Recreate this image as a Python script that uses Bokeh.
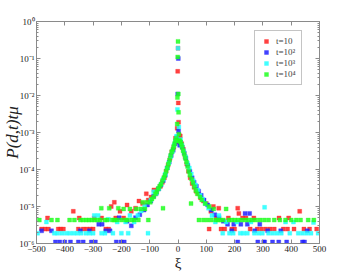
import math
from bokeh.plotting import figure
from bokeh.models import (Legend, LegendItem, LinearAxis, LogAxis, FixedTicker,
                          CustomJSTickFormatter, Range1d)
from bokeh.embed import file_html
from bokeh.resources import INLINE

# ---------------- data ----------------
series_labels = ["t=10", "t=10\u00b2", "t=10\u00b3", "t=10\u2074"]
series_colors = ["#ff2020", "#2020ff", "#20ffff", "#20ff20"]

red_xi = [0, -1, 1, 2, -3, 4, -5,
          -9, -15, -22, -28, -35, -42, -48, -55, -62, -70, -78, -85, -95, -105, -112, -125, -138, -150,
          -165, -180, -192, -205, -220, -225, -236, -245, -255, -270, -296, -300, -310, -322, -335, -349,
          -352, -370, -405, -415, -423, -458, -461, -470, -482,
          8, 13, 19, 25, 31, 37, 43, 50, 57, 64, 72, 80, 90, 100, 110, 116, 125, 135, 144, 152, 165,
          178, 190, 200, 211, 215, 228, 240, 255, 268, 280, 295, 310, 325, 340, 357, 372, 387, 391, 410,
          430, 445, 465, 490]
red_val = [0.19, 0.045, 0.0063, 0.0019, 0.0013, 8.5e-4, 5.5e-4,
           7e-4, 4e-4, 3e-4, 2e-4, 1.3e-4, 9e-5, 6e-5, 4.5e-5, 3.5e-5, 3e-5, 2.2e-5, 2.8e-5, 1.8e-5, 1.5e-5,
           2.2e-5, 1.2e-5, 1.4e-5, 9e-6, 7.4e-6, 1.1e-5, 4.9e-6, 7.4e-6, 4.9e-6, 1.3e-5, 1e-5, 2.45e-6,
           2.45e-6, 4.9e-6, 4.9e-6, 2.45e-6, 2.45e-6, 2.45e-6, 2.45e-6, 4.9e-6, 2.45e-6, 7.4e-6, 2.45e-6,
           2.45e-6, 2.45e-6, 2.45e-6, 4.9e-6, 2.45e-6, 2.45e-6,
           8e-4, 5e-4, 3.5e-4, 2.2e-4, 1.4e-4, 9e-5, 6e-5, 4.2e-5, 3.3e-5, 2.6e-5, 2.2e-5, 1.7e-5, 1.4e-5,
           1.2e-5, 2.45e-6, 7.4e-6, 1e-5, 4.9e-6, 9e-6, 2.45e-6, 2.45e-6, 4.9e-6, 2.45e-6, 2.45e-6, 9e-6,
           6.5e-6, 4.9e-6, 4.9e-6, 2.45e-6, 4.9e-6, 2.45e-6, 2.45e-6, 2.45e-6, 2.45e-6, 2.45e-6, 4.9e-6,
           2.45e-6, 2.45e-6, 4.9e-6, 2.45e-6, 7.4e-6, 2.45e-6, 2.45e-6, 2.45e-6]

blue_xi = [1, -1, 2, -4, 6,
           -10, -17, -24, -31, -38, -45, -52, -60, -68, -76, -86, -96, -108, -120, -135, -150, -165, -180,
           -190, -201, -208, -218, -240, -255, -268, -280, -292, -306, -313, -335, -345, -352, -380, -400,
           -418, -433, -447, -482,
           9, 15, 22, 28, 35, 42, 50, 57, 65, 73, 82, 92, 105, 118, 130, 145, 160, 175, 190, 197, 211,
           222, 237, 245, 253, 271, 282, 289, 303, 306, 317, 334, 356, 363, 384, 440, 447, 457]
blue_val = [0.1, 0.011, 0.0011, 7.3e-4, 4.5e-4,
            5e-4, 3.3e-4, 2.4e-4, 1.6e-4, 1.1e-4, 7e-5, 5e-5, 3.8e-5, 3e-5, 2.4e-5, 1.9e-5, 1.4e-5, 1.1e-5,
            8e-6, 6e-6, 5e-6, 3e-6, 4e-6, 1.1e-6, 1.1e-6, 5e-6, 1.1e-6, 2.2e-6, 2.2e-6, 3.3e-6, 3.3e-6,
            1.1e-6, 1.1e-6, 2.2e-6, 1.1e-6, 2.2e-6, 1.1e-6, 1.1e-6, 1.1e-6, 1.1e-6, 1.1e-6, 2.2e-6, 2.2e-6,
            5.5e-4, 4e-4, 2.8e-4, 2e-4, 1.3e-4, 9e-5, 6e-5, 4.5e-5, 3.5e-5, 2.6e-5, 2e-5, 1.5e-5, 1.1e-5,
            8e-6, 6e-6, 5e-6, 4e-6, 3.3e-6, 2.2e-6, 3.3e-6, 1.1e-6, 3.3e-6, 6.5e-6, 3.3e-6, 6.5e-6, 2.2e-6,
            1.1e-6, 3.3e-6, 1.1e-6, 1.1e-6, 2.2e-6, 1.1e-6, 1.1e-6, 2.2e-6, 1.1e-6, 1.1e-6, 1.1e-6, 2.2e-6]

cyan_xi = [0, -2, 3, -5, 6,
           -9, -14, -20, -26, -32, -38, -45, -52, -60, -68, -77, -86, -96, -106, -118, -130, -142, -155,
           -170, -176, -185, -200, -215, -230, -246, -258, -270, -282, -296, -300, -312, -325, -342, -355,
           -368, -382, -395, -410, -425, -437, -465, -496,
           9, 14, 20, 27, 33, 40, 47, 54, 62, 70, 78, 87, 96, 108, 120, 132, 145, 158, 170, 182, 195, 208,
           220, 232, 245, 258, 270, 285, 298, 306, 320, 335, 350, 365, 380, 395, 408, 425, 440, 455, 470,
           479, 495]
cyan_val = [0.19, 0.0042, 0.0014, 8e-4, 6e-4,
            6e-4, 4.5e-4, 3e-4, 2.2e-4, 1.5e-4, 1.1e-4, 7.5e-5, 5.5e-5, 4e-5, 3e-5, 2.2e-5, 2.5e-5, 1.5e-5,
            1.9e-6, 1e-5, 7.6e-6, 5.7e-6, 3.8e-6, 5.7e-6, 1.9e-6, 3.8e-6, 1.9e-6, 3.8e-6, 1.9e-6, 4.5e-6,
            1.9e-6, 1.9e-6, 5.7e-6, 5.7e-6, 1.9e-6, 1.9e-6, 1.9e-6, 1.9e-6, 1.9e-6, 1.9e-6, 1.9e-6, 1.9e-6,
            1.9e-6, 1.9e-6, 1.9e-6, 3.8e-6, 1.9e-6,
            6.5e-4, 4.5e-4, 3.2e-4, 2.2e-4, 1.5e-4, 1.1e-4, 7.5e-5, 5e-5, 3.8e-5, 2.8e-5, 2e-5, 1.6e-5,
            1.2e-5, 9e-6, 5.7e-6, 3.8e-6, 5.7e-6, 1.9e-6, 3.8e-6, 1.9e-6, 1.9e-6, 3.8e-6, 1.9e-6, 1.9e-6,
            1.9e-6, 3.8e-6, 1.9e-6, 1.9e-6, 1.9e-6, 9.5e-6, 1.9e-6, 1.9e-6, 1.9e-6, 1.9e-6, 3.8e-6, 1.9e-6,
            3.8e-6, 1.9e-6, 1.9e-6, 1.9e-6, 1.9e-6, 3.7e-6, 1.9e-6]

green_xi = [0, -1, 1, -2, 2, -3, 3, 4,
            -6, -9, -12, -15, -18, -22, -26, -30, -34, -38, -42, -46, -50, -53, -55, -60, -65, -70, -75,
            -80, -86, -92, -98, -105, -110, -117, -125, -132, -140, -148, -155, -163, -170, -178, -185,
            -192, -200, -211, -216, -225, -232, -243, -250, -258, -271, -275, -285, -295, -305, -315,
            -324, -335, -345, -366, -383, -426, -447, -490,
            6, 9, 12, 15, 18, 22, 26, 30, 34, 38, 42, 46, 48, 53, 58, 63, 68, 74, 78, 84, 90, 96, 104, 110,
            118, 126, 134, 142, 150, 160, 170, 180, 190, 200, 212, 225, 238, 250, 262, 275, 290, 305, 320,
            340, 360, 380, 400, 418, 433, 460, 480]
green_val = [0.29, 0.11, 0.011, 0.0088, 0.0035, 0.0017, 9e-4, 6e-4,
             7e-4, 6e-4, 5e-4, 4.2e-4, 3.5e-4, 3e-4, 2.4e-4, 1.8e-4, 1.4e-4, 1.1e-4, 9e-5, 7e-5, 6e-5, 9e-6,
             5e-5, 4e-5, 3.5e-5, 3e-5, 2.5e-5, 2.2e-5, 1.8e-5, 1.6e-5, 1.3e-5, 4.3e-6, 1.3e-5, 8.6e-6,
             1.3e-5, 8.6e-6, 4.3e-6, 8.6e-6, 4.3e-6, 4.3e-6, 8.6e-6, 4.3e-6, 4.3e-6, 8.6e-6, 4.3e-6, 9e-6,
             4.3e-6, 4.3e-6, 4.3e-6, 9e-6, 4.3e-6, 4.3e-6, 9e-6, 4.3e-6, 4.3e-6, 4.3e-6, 4.3e-6, 4.3e-6,
             4.3e-6, 4.3e-6, 4.3e-6, 4.3e-6, 4.3e-6, 4.3e-6, 4.3e-6, 4.3e-6,
             6e-4, 5.5e-4, 4.8e-4, 4e-4, 3.2e-4, 2.6e-4, 2e-4, 1.6e-4, 1.2e-4, 9e-5, 7e-5, 1.2e-5, 5.5e-5,
             4.4e-5, 3.4e-5, 2.7e-5, 2.2e-5, 4.3e-6, 1.8e-5, 1.5e-5, 4.3e-6, 1.2e-5, 4.3e-6, 1e-5, 4.3e-6,
             8.6e-6, 4.3e-6, 4.3e-6, 4.3e-6, 4.3e-6, 8.6e-6, 4.3e-6, 4.3e-6, 4.3e-6, 4.3e-6, 4.3e-6, 4.3e-6,
             4.3e-6, 4.3e-6, 4.3e-6, 4.3e-6, 4.3e-6, 4.3e-6, 4.3e-6, 4.3e-6, 4.3e-6, 4.3e-6, 4.3e-6,
             4.3e-6, 4.3e-6, 4.3e-6]

x_ticks = [-500, -400, -300, -200, -100, 0, 100, 200, 300, 400, 500]
y_ticks = [1e-6, 1e-5, 1e-4, 1e-3, 1e-2, 1e-1, 1.0]
y_tick_labels = ["10\u207b\u2076", "10\u207b\u2075", "10\u207b\u2074", "10\u207b\u00b3",
                 "10\u207b\u00b2", "10\u207b\u00b9", "10\u2070"]
x_title = "\u03be"
y_title = "P(d,t)t\u03bc"

# ---------------- figure ----------------
FONT = "Liberation Serif"
AXC = "#8a8a8a"
TXC = "#222222"

p = figure(width=350, height=275, output_backend="svg", toolbar_location=None,
           y_axis_type="log", x_range=Range1d(-500, 500), y_range=Range1d(1e-6, 1.0),
           min_border_left=35, min_border_right=31, min_border_top=21, min_border_bottom=32,
           x_axis_location=None, y_axis_location=None)
p.grid.visible = False
p.outline_line_color = AXC
p.background_fill_color = "white"
p.border_fill_color = "white"

minor = [m * 10.0 ** e for e in range(-6, 0) for m in range(2, 10)]
yfmt = CustomJSTickFormatter(args=dict(tvals=y_ticks, tlabs=y_tick_labels), code="""
let best = 0, bd = 1e9;
for (let i = 0; i < tvals.length; i++) {
  const d = Math.abs(Math.log10(tvals[i]) - Math.log10(tick));
  if (d < bd) { bd = d; best = i; }
}
return tlabs[best];
""")

def style(ax, labels=True, minor_on=True):
    ax.axis_line_color = AXC
    ax.major_tick_line_color = AXC
    ax.minor_tick_line_color = AXC if minor_on else None
    ax.major_tick_in = 4
    ax.major_tick_out = 0
    ax.minor_tick_in = 2
    ax.minor_tick_out = 0
    ax.major_label_text_font = FONT
    ax.major_label_text_font_size = "9px"
    ax.major_label_text_color = TXC if labels else None
    ax.major_label_standoff = 2

xb = LinearAxis(ticker=FixedTicker(ticks=x_ticks))
style(xb, minor_on=False)
xb.axis_label = x_title
xb.axis_label_text_font = FONT
xb.axis_label_text_font_style = "normal"
xb.axis_label_text_font_size = "15px"
xb.axis_label_text_color = TXC
xb.axis_label_standoff = 0
p.add_layout(xb, "below")
xt = LinearAxis(ticker=FixedTicker(ticks=x_ticks))
style(xt, labels=False, minor_on=False)
xt.major_label_text_font_size = "0px"
p.add_layout(xt, "above")

yl = LogAxis(ticker=FixedTicker(ticks=y_ticks, minor_ticks=minor), formatter=yfmt)
style(yl)
yl.axis_label = y_title
yl.axis_label_text_font = FONT
yl.axis_label_text_font_style = "italic"
yl.axis_label_text_font_size = "17px"
yl.axis_label_text_color = TXC
yl.axis_label_standoff = -6
p.add_layout(yl, "left")
yr = LogAxis(ticker=FixedTicker(ticks=y_ticks, minor_ticks=minor))
style(yr, labels=False)
yr.major_label_text_font_size = "0px"
p.add_layout(yr, "right")

renderers = []
for xs, ys, col in [(red_xi, red_val, series_colors[0]), (blue_xi, blue_val, series_colors[1]),
                    (cyan_xi, cyan_val, series_colors[2]), (green_xi, green_val, series_colors[3])]:
    r = p.scatter(xs, ys, marker="square", size=4, fill_color=col, line_color=col,
                  line_alpha=0.3, fill_alpha=0.85, line_width=1)
    renderers.append(r)

legend = Legend(items=[LegendItem(label=lab, renderers=[r]) for lab, r in zip(series_labels, renderers)],
                location=(218, 158), label_text_font=FONT, label_text_font_size="9px",
                label_height=10, glyph_height=10, glyph_width=12, spacing=1, padding=5,
                label_standoff=4, border_line_color=AXC, background_fill_alpha=1.0, margin=0)
p.add_layout(legend, "center")

open("out.html", "w").write(file_html(p, INLINE))
